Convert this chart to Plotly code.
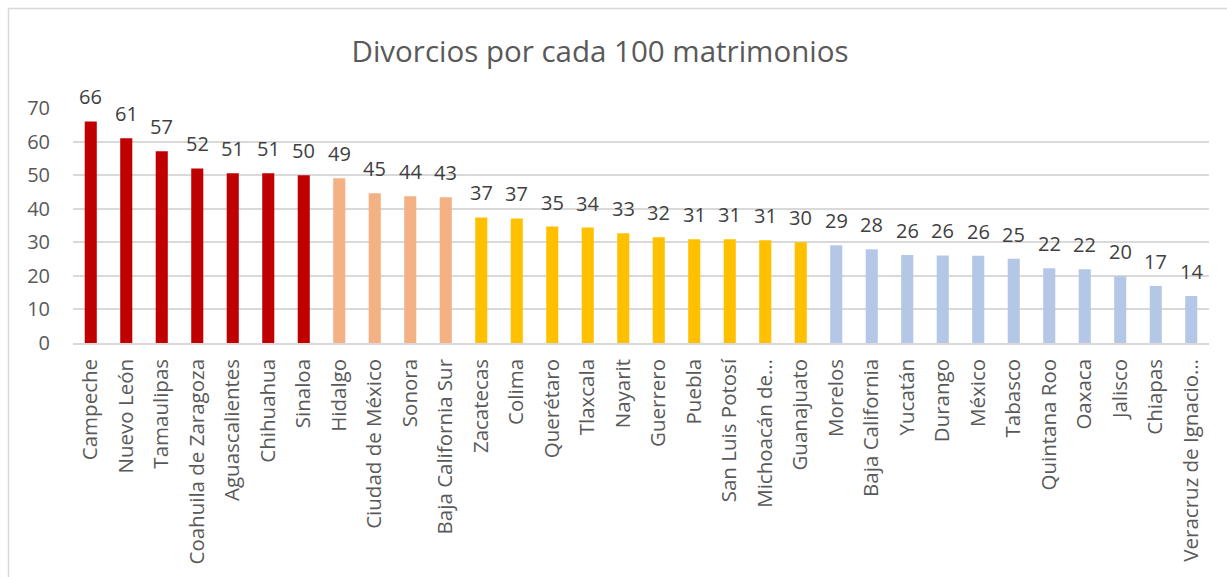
import plotly.graph_objects as go

estados = ["Campeche", "Nuevo León", "Tamaulipas", "Coahuila de Zaragoza", "Aguascalientes",
           "Chihuahua", "Sinaloa", "Hidalgo", "Ciudad de México", "Sonora", "Baja California Sur",
           "Zacatecas", "Colima", "Querétaro", "Tlaxcala", "Nayarit", "Guerrero", "Puebla",
           "San Luis Potosí", "Michoacán de…", "Guanajuato", "Morelos", "Baja California",
           "Yucatán", "Durango", "México", "Tabasco", "Quintana Roo", "Oaxaca", "Jalisco",
           "Chiapas", "Veracruz de Ignacio…"]
valores = [66.0, 61.0, 57.1, 52.0, 50.6, 50.6, 50.0, 49.1, 44.6, 43.7, 43.4,
           37.4, 37.1, 34.7, 34.4, 32.7, 31.5, 30.9, 30.9, 30.6, 30.0,
           29.1, 27.9, 26.2, 26.1, 26.0, 25.1, 22.3, 22.0, 19.9, 17.0, 14.0]
etiquetas = ["66", "61", "57", "52", "51", "51", "50", "49", "45", "44", "43",
             "37", "37", "35", "34", "33", "32", "31", "31", "31", "30",
             "29", "28", "26", "26", "26", "25", "22", "22", "20", "17", "14"]
grupos = [0] * 7 + [1] * 4 + [2] * 10 + [3] * 11
paleta = ["#C00000", "#F4B183", "#FFC000", "#B4C7E7"]
colores = [paleta[g] for g in grupos]

FONT = "Open Sans"
GRAY = "#595959"

fig = go.Figure()
fig.add_trace(go.Bar(x=estados, y=valores, marker=dict(color=colores, line=dict(width=0)),
                     hoverinfo="x+y"))

for e, v, t in zip(estados, valores, etiquetas):
    fig.add_annotation(x=e, y=v, text=t, showarrow=False, yanchor="bottom",
                       yshift=9, font=dict(family=FONT, size=20, color="#404040"))

fig.add_shape(type="rect", xref="paper", yref="paper", x0=-0.0568, x1=1.05, y0=-1.2, y1=1.423,
              line=dict(color="#D9D9D9", width=1.5), fillcolor="rgba(0,0,0,0)", layer="below")

fig.update_layout(
    width=1227, height=577,
    margin=dict(l=73, r=18, t=108, b=234),
    paper_bgcolor="white", plot_bgcolor="white",
    bargap=0.66,
    showlegend=False,
    title=dict(text="Divorcios por cada 100 matrimonios", x=600 / 1227, xref="container",
               xanchor="center", y=1 - 52 / 577, yanchor="middle", yref="container",
               font=dict(family=FONT, size=29.5, color=GRAY)),
    font=dict(family=FONT, color=GRAY),
)
fig.update_xaxes(tickangle=-90, tickfont=dict(family=FONT, size=20.5, color=GRAY),
                 showline=True, linecolor="#D9D9D9", linewidth=1.5,
                 ticks="outside", ticklen=6, tickcolor="rgba(0,0,0,0)", showgrid=False)
fig.update_yaxes(range=[0, 70], dtick=10, tickfont=dict(family=FONT, size=20, color=GRAY),
                 showgrid=True, gridcolor="#D9D9D9", gridwidth=1.5, zeroline=False,
                 ticks="outside", ticklen=18, tickcolor="rgba(0,0,0,0)", showline=False)

fig.write_html("out.html", config={"displayModeBar": False},
               post_script="document.body.style.margin='0';document.body.style.overflow='hidden';")
